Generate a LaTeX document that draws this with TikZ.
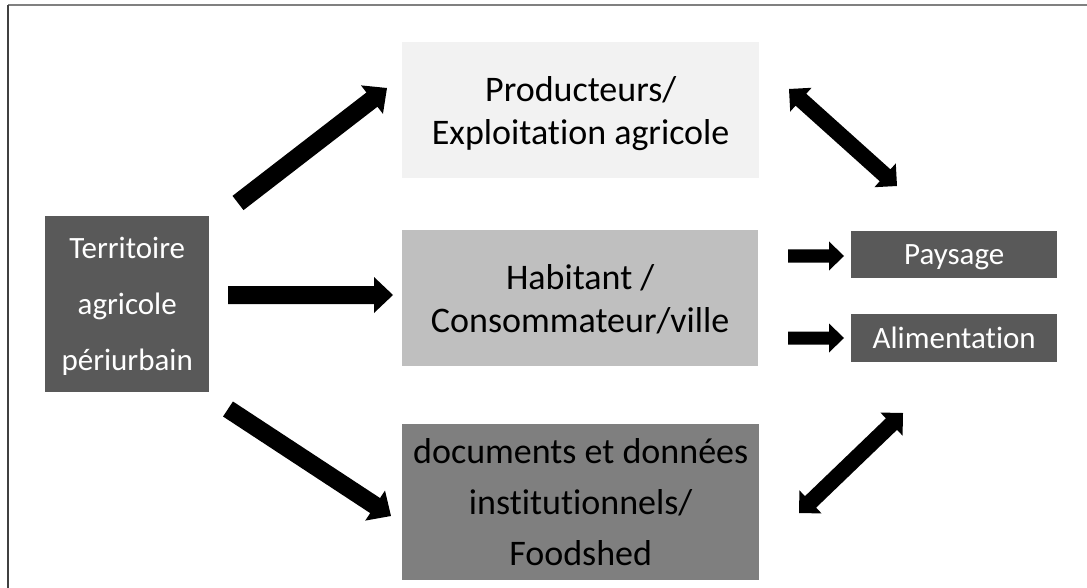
\documentclass[tikz,border=0pt]{standalone}
\usepackage{fontspec}
\setmainfont{Carlito}[Ligatures={NoCommon}]
\usetikzlibrary{calc}
\definecolor{boxdark}{HTML}{595959}
\definecolor{boxlight}{HTML}{F2F2F2}
\definecolor{boxmid}{HTML}{BFBFBF}
\definecolor{boxdoc}{HTML}{7F7F7F}
\definecolor{framegray}{HTML}{808080}
\definecolor{frameleft}{HTML}{404040}
% #1 from, #2 to, #3 half shaft, #4 half head, #5 head length
\newcommand\blockarrow[5]{%
  \fill let \p1=($(#2)-(#1)$), \n1={atan2(\y1,\x1)}, \n2={veclen(\x1,\y1)} in
    [shift={(#1)}, rotate=\n1]
    (0,-#3) -- (\n2-#5,-#3) -- (\n2-#5,-#4) -- (\n2,0) -- (\n2-#5,#4) -- (\n2-#5,#3) -- (0,#3) -- cycle;}
\newcommand\dblockarrow[5]{%
  \fill let \p1=($(#2)-(#1)$), \n1={atan2(\y1,\x1)}, \n2={veclen(\x1,\y1)} in
    [shift={(#1)}, rotate=\n1]
    (0,0) -- (#5,-#4) -- (#5,-#3) -- (\n2-#5,-#3) -- (\n2-#5,-#4) -- (\n2,0) -- (\n2-#5,#4) -- (\n2-#5,#3) -- (#5,#3) -- (#5,#4) -- cycle;}
\begin{document}
\begin{tikzpicture}[x=1pt,y=-1pt,
  boxbase/.style={draw=none, inner sep=0pt, align=center, anchor=north west, text depth=0pt},
  bigbox/.style={boxbase, font=\fontsize{36}{43}\selectfont, text=black},
  smallbox/.style={boxbase, font=\fontsize{31}{37}\selectfont, text=white, fill=boxdark}]
\useasboundingbox (0,0) rectangle (1087,588);
\fill[white] (0,0) rectangle (1087,588);
% frame (top and left edges only)
\draw[framegray, line width=2] (8,5.5) -- (1087,5.5);
\draw[frameleft, line width=1.5] (8,5) -- (8,588);

% boxes
\node[smallbox, minimum width=164, minimum height=176, font=\fontsize{31}{56}\selectfont] (terr) at (45,216) {Territoire\\agricole\\périurbain};
\node[bigbox, fill=boxlight, minimum width=357, minimum height=136] (prod) at (402,42) {Producteurs/\\Exploitation agricole};
\node[bigbox, fill=boxmid, minimum width=356, minimum height=136] (hab) at (402,230) {Habitant /\\Consommateur/ville};
\node[bigbox, fill=boxdoc, minimum width=357, minimum height=156, font=\fontsize{36}{51}\selectfont] (doc) at (402,424) {documents et données\\institutionnels/\\Foodshed};
\node[smallbox, minimum width=206, minimum height=47] (pay) at (851,231) {Paysage};
\node[smallbox, minimum width=206, minimum height=48] (ali) at (851,314) {Alimentation};

% arrow end points
\coordinate (a1s) at (238,203); \coordinate (a1e) at (387,88);
\coordinate (a2s) at (228,295); \coordinate (a2e) at (393,295);
\coordinate (a3s) at (228,409); \coordinate (a3e) at (391,516);
\coordinate (d1s) at (789,89);  \coordinate (d1e) at (897,186);
\coordinate (d2s) at (799,513); \coordinate (d2e) at (903,413);
\coordinate (p1s) at (788,256); \coordinate (p1e) at (844,256);
\coordinate (p2s) at (788,338); \coordinate (p2e) at (844,338);

% arrows
\blockarrow{a1s}{a1e}{9}{18}{19}
\blockarrow{a2s}{a2e}{9}{18}{19}
\blockarrow{a3s}{a3e}{9}{18}{19}
\blockarrow{p1s}{p1e}{6.5}{14.5}{15}
\blockarrow{p2s}{p2e}{6.5}{14.5}{15}
\dblockarrow{d1s}{d1e}{8}{16}{16}
\dblockarrow{d2s}{d2e}{8}{16}{16}
\end{tikzpicture}
\end{document}
